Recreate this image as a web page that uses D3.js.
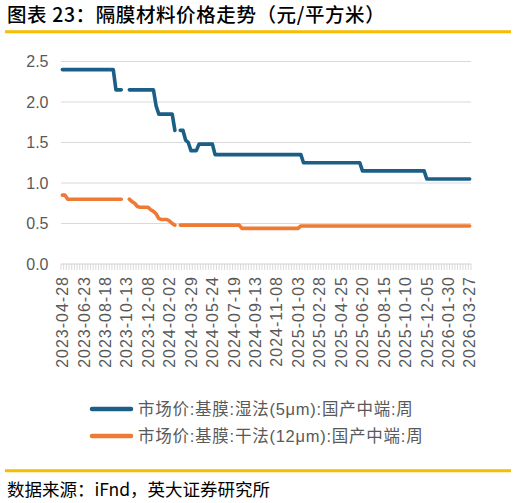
<!DOCTYPE html>
<html>
<head>
<meta charset="utf-8">
<script src="https://cdn.jsdelivr.net/npm/d3@7"></script>
<style>
  html, body { margin: 0; padding: 0; background: #fff; }
  svg { display: block; }
</style>
</head>
<body>
<div id="chart"></div>
<script>
// weekly series, first week 2023-04-28
const startDate = "2023-04-28";

const tickLabels = [
  "2023-04-28", "2023-06-23", "2023-08-18", "2023-10-13", "2023-12-08",
  "2024-02-02", "2024-03-29", "2024-05-24", "2024-07-19", "2024-09-13",
  "2024-11-08", "2025-01-03", "2025-02-28", "2025-04-25", "2025-06-20",
  "2025-08-15", "2025-10-10", "2025-12-05", "2026-01-30", "2026-03-27"
];

const yTicks = [0, 0.5, 1.0, 1.5, 2.0, 2.5];

const seriesNames = [
  "市场价:基膜:湿法(5μm):国产中端:周",
  "市场价:基膜:干法(12μm):国产中端:周"
];

// 湿法 5μm
const wetPrice = [
  2.4, 2.4, 2.4, 2.4, 2.4, 2.4, 2.4, 2.4, 2.4, 2.4,
  2.4, 2.4, 2.4, 2.4, 2.4, 2.4, 2.4, 2.4, 2.4, 2.4,
  2.15, 2.15, 2.15, null, null, 2.15, 2.15, 2.15, 2.15, 2.15,
  2.15, 2.15, 2.15, 2.15, 2.15, 1.95, 1.85, 1.85, 1.85, 1.85,
  1.85, 1.85, 1.65, null, 1.65, 1.65, 1.53, 1.5, 1.4, 1.4,
  1.4, 1.48, 1.48, 1.48, 1.48, 1.48, 1.48, 1.35, 1.35, 1.35,
  1.35, 1.35, 1.35, 1.35, 1.35, 1.35, 1.35, 1.35, 1.35, 1.35,
  1.35, 1.35, 1.35, 1.35, 1.35, 1.35, 1.35, 1.35, 1.35, 1.35,
  1.35, 1.35, 1.35, 1.35, 1.35, 1.35, 1.35, 1.35, 1.35, 1.35,
  1.25, 1.25, 1.25, 1.25, 1.25, 1.25, 1.25, 1.25, 1.25, 1.25,
  1.25, 1.25, 1.25, 1.25, 1.25, 1.25, 1.25, 1.25, 1.25, 1.25,
  1.25, 1.25, 1.15, 1.15, 1.15, 1.15, 1.15, 1.15, 1.15, 1.15,
  1.15, 1.15, 1.15, 1.15, 1.15, 1.15, 1.15, 1.15, 1.15, 1.15,
  1.15, 1.15, 1.15, 1.15, 1.15, 1.15, 1.05, 1.05, 1.05, 1.05,
  1.05, 1.05, 1.05, 1.05, 1.05, 1.05, 1.05, 1.05, 1.05, 1.05,
  1.05, 1.05, 1.05
];

// 干法 12μm
const dryPrice = [
  0.85, 0.85, 0.8, 0.8, 0.8, 0.8, 0.8, 0.8, 0.8, 0.8,
  0.8, 0.8, 0.8, 0.8, 0.8, 0.8, 0.8, 0.8, 0.8, 0.8,
  0.8, 0.8, 0.8, null, null, 0.8, 0.77, 0.75, 0.71, 0.7,
  0.7, 0.7, 0.7, 0.67, 0.65, 0.62, 0.56, 0.55, 0.55, 0.55,
  0.53, 0.5, 0.48, null, 0.48, 0.48, 0.48, 0.48, 0.48, 0.48,
  0.48, 0.48, 0.48, 0.48, 0.48, 0.48, 0.48, 0.48, 0.48, 0.48,
  0.48, 0.48, 0.48, 0.48, 0.48, 0.48, 0.48, 0.44, 0.44, 0.44,
  0.44, 0.44, 0.44, 0.44, 0.44, 0.44, 0.44, 0.44, 0.44, 0.44,
  0.44, 0.44, 0.44, 0.44, 0.44, 0.44, 0.44, 0.44, 0.44, 0.47,
  0.47, 0.47, 0.47, 0.47, 0.47, 0.47, 0.47, 0.47, 0.47, 0.47,
  0.47, 0.47, 0.47, 0.47, 0.47, 0.47, 0.47, 0.47, 0.47, 0.47,
  0.47, 0.47, 0.47, 0.47, 0.47, 0.47, 0.47, 0.47, 0.47, 0.47,
  0.47, 0.47, 0.47, 0.47, 0.47, 0.47, 0.47, 0.47, 0.47, 0.47,
  0.47, 0.47, 0.47, 0.47, 0.47, 0.47, 0.47, 0.47, 0.47, 0.47,
  0.47, 0.47, 0.47, 0.47, 0.47, 0.47, 0.47, 0.47, 0.47, 0.47,
  0.47, 0.47, 0.47
];

const colors = ["#1b5f86", "#ee7a34"];
const gold = "#f7bd00";
const textGray = "#595959";
const latin = "'Liberation Sans', 'Noto Sans CJK SC', sans-serif";
const cjk = "'Noto Sans CJK SC', sans-serif";

const width = 517, height = 503;
const plot = { left: 61, right: 471, top: 61.5, bottom: 264 };

const parse = d3.utcParse("%Y-%m-%d"), fmt = d3.utcFormat("%Y-%m-%d");
const dates = d3.range(wetPrice.length).map(i => fmt(d3.utcDay.offset(parse(startDate), 7 * i)));

const svg = d3.select("#chart")
  .append("svg")
  .attr("width", width)
  .attr("height", height);

// title + gold rules
svg.append("text")
  .attr("x", 7)
  .attr("y", 22)
  .attr("font-family", cjk)
  .attr("font-weight", 500)
  .attr("font-size", "19.5px")
  .attr("letter-spacing", "0.6px")
  .attr("fill", "#000")
  .text("图表 23：隔膜材料价格走势（元/平方米）");

svg.append("line")
  .attr("x1", 5).attr("x2", 511)
  .attr("y1", 31.7).attr("y2", 31.7)
  .attr("stroke", gold).attr("stroke-width", 3);

svg.append("line")
  .attr("x1", 5).attr("x2", 511)
  .attr("y1", 470.8).attr("y2", 470.8)
  .attr("stroke", gold).attr("stroke-width", 3);

svg.append("text")
  .attr("x", 7)
  .attr("y", 496)
  .attr("font-family", cjk)
  .attr("font-size", "17.5px")
  .attr("fill", "#000")
  .text("数据来源：iFnd，英大证券研究所");

// scales
let x = d3.scaleBand().domain(dates).range([plot.left, plot.right]).padding(0);
let y = d3.scaleLinear().domain([0, 2.5]).range([plot.bottom, plot.top]);
const bw = x.bandwidth();

// gridlines
svg.append("g")
  .selectAll("line")
  .data(yTicks.filter(d => d > 0))
  .enter()
  .append("line")
  .attr("x1", plot.left).attr("x2", plot.right)
  .attr("y1", d => y(d)).attr("y2", d => y(d))
  .attr("stroke", "#d9d9d9").attr("stroke-width", 1);

// y labels
svg.append("g")
  .selectAll("text")
  .data(yTicks)
  .enter()
  .append("text")
  .attr("x", 48.5)
  .attr("y", d => y(d))
  .attr("dy", "0.36em")
  .attr("text-anchor", "end")
  .attr("font-family", latin)
  .attr("font-size", "16px")
  .attr("fill", textGray)
  .text(d => d3.format(".1f")(d));

// x axis line and weekly ticks
svg.append("line")
  .attr("x1", plot.left).attr("x2", plot.right)
  .attr("y1", plot.bottom).attr("y2", plot.bottom)
  .attr("stroke", "#d0d0d0").attr("stroke-width", 1);

svg.append("g")
  .selectAll("line")
  .data(d3.range(dates.length + 1))
  .enter()
  .append("line")
  .attr("x1", i => plot.left + i * bw).attr("x2", i => plot.left + i * bw)
  .attr("y1", plot.bottom).attr("y2", plot.bottom + 6)
  .attr("stroke", "#d0d0d0").attr("stroke-width", 0.8);

svg.append("g")
  .selectAll("text")
  .data(tickLabels)
  .enter()
  .append("text")
  .attr("transform", d => "translate(" + (x(d) + bw / 2) + "," + 276 + ") rotate(-90)")
  .attr("dy", "0.36em")
  .attr("text-anchor", "end")
  .attr("font-family", latin)
  .attr("font-size", "16px")
  .attr("letter-spacing", "1px")
  .attr("fill", textGray)
  .text(d => d);

// series lines
const line = d3.line()
  .defined(d => d.v != null)
  .x(d => x(d.date) + bw / 2)
  .y(d => y(d.v));

[wetPrice, dryPrice].forEach((vals, k) => {
  svg.append("path")
    .datum(vals.map((v, i) => ({ date: dates[i], v: v })))
    .attr("d", line)
    .attr("fill", "none")
    .attr("stroke", colors[k])
    .attr("stroke-width", 3.6)
    .attr("stroke-linejoin", "round")
    .attr("stroke-linecap", "round");
});

// legend
const legendY = [409, 436];
seriesNames.forEach((name, k) => {
  svg.append("line")
    .attr("x1", 92).attr("x2", 131)
    .attr("y1", legendY[k]).attr("y2", legendY[k])
    .attr("stroke", colors[k]).attr("stroke-width", 4.5)
    .attr("stroke-linecap", "round");
  svg.append("text")
    .attr("x", 138)
    .attr("y", legendY[k])
    .attr("dy", "0.36em")
    .attr("font-family", latin)
    .attr("font-size", "16.5px")
    .attr("letter-spacing", "0.75px")
    .attr("fill", textGray)
    .text(name);
});
</script>
</body>
</html>
